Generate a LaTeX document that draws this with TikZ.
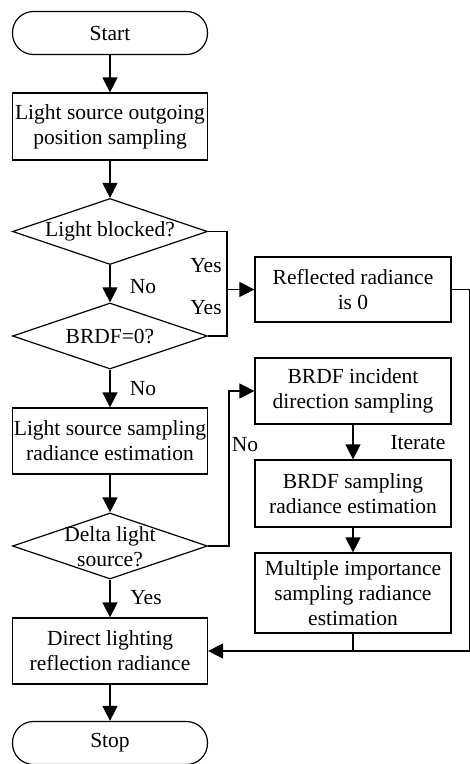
\documentclass[tikz,border=0pt]{standalone}
\usepackage{fontspec}
\setmainfont{Liberation Serif}
\usetikzlibrary{arrows.meta,shapes.geometric}
\begin{document}
\begin{tikzpicture}[x=1pt,y=-1pt, line width=1.2pt,
  txt/.style={font=\fontsize{21.5}{25}\selectfont, align=center, inner sep=0pt},
  box/.style={txt, draw, minimum width=195pt, minimum height=66pt},
  term/.style={txt, draw, minimum width=195pt, minimum height=43pt, rounded corners=21pt},
  dia/.style={draw, diamond, inner sep=0pt, minimum width=195pt, minimum height=66pt},
  ar/.style={-{Triangle[length=15pt,width=15pt]}},
  lbl/.style={txt}]
\useasboundingbox (0,0) rectangle (470,764);
\node[term] (start) at (110,33) {Start};
\node[box, minimum height=67pt] (b1) at (110,126.5) {Light source outgoing\\position sampling};
\node[dia] (d1) at (110,231.5) {};
\node[txt] (d1t) at (d1) {Light blocked?};
\node[dia] (d2) at (110,336) {};
\node[txt] (d2t) at (d2) {BRDF=0?};
\node[box] (lss) at (110,441) {Light source sampling\\radiance estimation};
\node[dia] (d3) at (110,546) {};
\node[txt] (d3t) at (110,547) {Delta light\\source?};
\node[box] (dl) at (110,651) {Direct lighting\\reflection radiance};
\node[term] (stop) at (110,743) {Stop};
\node[box, minimum width=196pt, minimum height=65pt] (refl) at (353,289.5) {Reflected radiance\\is 0};
\node[box, minimum width=196pt] (bi) at (353,391) {BRDF incident\\direction sampling};
\node[box, minimum width=196pt, minimum height=67pt] (bs) at (353,493.5) {BRDF sampling\\radiance estimation};
\node[box, minimum width=196pt, minimum height=80pt] (mis) at (353,593) {Multiple importance\\sampling radiance\\estimation};
\node[lbl] (no1) at (143,287) {No};
\node[lbl] (no2) at (143,389) {No};
\node[lbl] (yes1) at (206,266) {Yes};
\node[lbl] (yes2) at (206,308) {Yes};
\node[lbl] (no3) at (245,445) {No};
\node[lbl] (yes3) at (146,598) {Yes};
\node[lbl] (it) at (418,443) {Iterate};
\coordinate (j) at (227,289.5);
\coordinate (k) at (229,391);
\coordinate (r1) at (469.5,289.5);
\coordinate (r2) at (469.5,651);
\draw[ar] (start) -- (b1);
\draw[ar] (b1) -- (d1);
\draw[ar] (d1) -- (d2);
\draw[ar] (d2) -- (lss);
\draw[ar] (lss) -- (d3);
\draw[ar] (d3) -- (dl);
\draw[ar] (dl) -- (stop);
\draw (d1.east) -| (j);
\draw (d2.east) -| (j);
\draw[ar] (j) -- (refl.west);
\draw (refl.east) -- (r1) -- (r2);
\draw[ar] (r2) -- (dl.east);
\draw (mis.south) -- (mis.south |- dl.east);
\draw[ar] (d3.east) -| (k) -- (bi.west);
\draw[ar] (bi) -- (bs);
\draw[ar] (bs) -- (mis);
\end{tikzpicture}
\end{document}
